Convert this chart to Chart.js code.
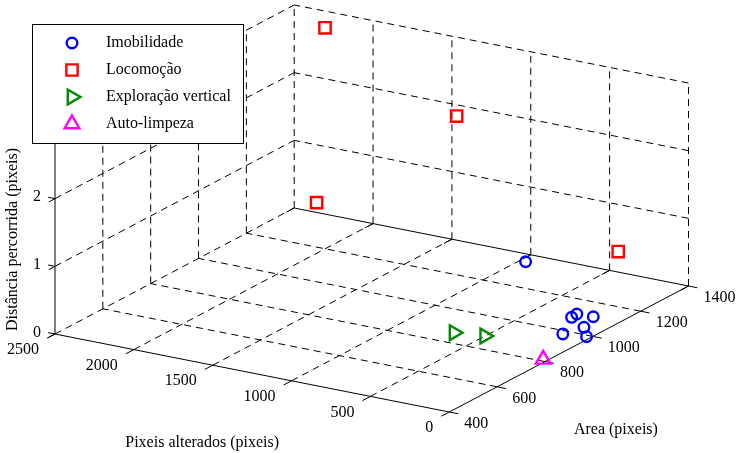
<!DOCTYPE html>
<html>
<head>
<meta charset="utf-8">
<script src="https://cdn.jsdelivr.net/npm/chart.js@4.4.0/dist/chart.umd.min.js"></script>
<style>
  html, body { margin: 0; padding: 0; background: #fff; }
  #wrap { width: 742px; height: 453px; }
</style>
</head>
<body>
<div id="wrap"><canvas id="chart" width="742" height="453"></canvas></div>
<script>
// axis limits and tick values
const xRange = [0, 2500];      // Pixeis alterados
const yRange = [400, 1400];    // Area
const zRange = [0, 3];         // Distância percorrida
const xTicks = [0, 500, 1000, 1500, 2000, 2500];
const yTicks = [400, 600, 800, 1000, 1200, 1400];
const zTicks = [0, 1, 2, 3];

const xTitle = "Pixeis alterados (pixeis)";
const yTitle = "Area (pixeis)";
const zTitle = "Distância percorrida (pixeis)";

// samples: [pixeis alterados, area, distancia]
const imobilidade = [[963, 1354, 0], [270, 1111, 0], [265, 1086, 0], [170, 1114, 0], [120, 1042, 0], [160, 980, 0], [26, 991, 0]];
const locomocao = [[2200, 1331, 2.93], [1200, 1222, 2.29], [2000, 1164, 0.75], [300, 1304, 0.55]];
const exploracao = [[672, 863, 0], [502, 879, 0]];
const autoLimpeza = [[28, 811, 0]];

const seriesNames = ["Imobilidade", "Locomoção", "Exploração vertical", "Auto-limpeza"];
const seriesData = [imobilidade, locomocao, exploracao, autoLimpeza];
const seriesStyle = [
  { color: "#0000ff", pointStyle: "circle", radius: 5.3, rotation: 0 },
  { color: "#ff0000", pointStyle: "rect", radius: 8, rotation: 0 },
  { color: "#008a00", pointStyle: "triangle", radius: 8.5, rotation: 90 },
  { color: "#ff00ff", pointStyle: "triangle", radius: 8.5, rotation: 0 }
];

// camera: screen offset of the (xmin, ymin, zmin) corner and the span of each axis
const view = { ox: 449.3, oy: 412, ex: [-394.3, -78], ey: [239.2, -126], ez: [0, -203] };

function project([X, Y, Z]) {
  const u = (X - xRange[0]) / (xRange[1] - xRange[0]);
  const v = (Y - yRange[0]) / (yRange[1] - yRange[0]);
  const w = (Z - zRange[0]) / (zRange[1] - zRange[0]);
  return {
    x: view.ox + u * view.ex[0] + v * view.ey[0] + w * view.ez[0],
    y: view.oy + u * view.ex[1] + v * view.ey[1] + w * view.ez[1]
  };
}

// short tick of len px leaving p along 3D direction d
function tick(p, d, len) {
  const a = project(p);
  const b = project([p[0] + d[0], p[1] + d[1], p[2] + d[2]]);
  const dx = b.x - a.x, dy = b.y - a.y, n = Math.hypot(dx, dy);
  return [a, { x: a.x + dx / n * len, y: a.y + dy / n * len }];
}

const [x0, x1] = xRange, [y0, y1] = yRange, [z0, z1] = zRange;

// dashed grid on the floor and the two back walls
const dashed = [];
xTicks.filter(X => X !== x0).forEach(X => dashed.push([[X, y0, z0], [X, y1, z0]]));
yTicks.filter(Y => Y !== y0 && Y !== y1).forEach(Y => dashed.push([[x0, Y, z0], [x1, Y, z0]]));
yTicks.filter(Y => Y !== y0).forEach(Y => dashed.push([[x1, Y, z0], [x1, Y, z1]]));
zTicks.filter(Z => Z !== z0).forEach(Z => dashed.push([[x1, y0, Z], [x1, y1, Z]]));
xTicks.filter(X => X !== x1).forEach(X => dashed.push([[X, y1, z0], [X, y1, z1]]));
zTicks.filter(Z => Z !== z0).forEach(Z => dashed.push([[x0, y1, Z], [x1, y1, Z]]));

// solid axis lines
const solid = [
  [[x0, y0, z0], [x1, y0, z0]],
  [[x0, y0, z0], [x0, y1, z0]],
  [[x1, y0, z0], [x1, y0, z1]],
  [[x0, y1, z0], [x1, y1, z0]]
];

const ticks = [];
xTicks.forEach(X => ticks.push(tick([X, y0, z0], [0, -1, 0], 9)));
xTicks.forEach(X => ticks.push(tick([X, y1, z0], [0, -1, 0], 9)));
yTicks.forEach(Y => ticks.push(tick([x0, Y, z0], [-1, 0, 0], 9)));
zTicks.forEach(Z => {
  ticks.push(tick([x1, y0, Z], [1, 0, 0], 7));
  ticks.push(tick([x1, y0, Z], [0, -1, 0], 7));
});

const lineSet = (pts, dash) => ({
  data: pts,
  showLine: true,
  borderColor: "#000",
  borderWidth: 1,
  borderDash: dash,
  pointRadius: 0,
  fill: false,
  order: 10
});

const datasets = [];
seriesData.forEach((pts, i) => {
  const s = seriesStyle[i];
  datasets.push({
    label: seriesNames[i],
    data: pts.map(project),
    pointStyle: s.pointStyle,
    rotation: s.rotation,
    pointRadius: s.radius,
    borderColor: s.color,
    backgroundColor: "rgba(0,0,0,0)",
    pointBorderWidth: 2.4,
    showLine: false,
    order: 0
  });
});
dashed.forEach(l => datasets.push(lineSet(l.map(project), [7, 5])));
solid.forEach(l => datasets.push(lineSet(l.map(project), [])));
ticks.forEach(t => datasets.push(lineSet(t, [])));

const FONT = '16px "Liberation Serif", "Times New Roman", serif';

const axisText = {
  id: "axisText",
  afterDatasetsDraw(chart) {
    const { ctx, scales: { x, y } } = chart;
    const px = p => ({ x: x.getPixelForValue(p.x), y: y.getPixelForValue(p.y) });
    ctx.save();
    ctx.font = FONT;
    ctx.fillStyle = "#000";
    ctx.textBaseline = "middle";

    ctx.textAlign = "right";
    xTicks.forEach(X => {
      const p = px(project([X, y0, z0]));
      ctx.fillText(String(X), p.x - 16, p.y + 16);
    });
    ctx.textAlign = "left";
    yTicks.forEach(Y => {
      const p = px(project([x0, Y, z0]));
      ctx.fillText(String(Y), p.x + 15, p.y + 11.5);
    });
    ctx.textAlign = "right";
    zTicks.forEach(Z => {
      const p = px(project([x1, y0, Z]));
      ctx.fillText(String(Z), p.x - 14, p.y - 1.5);
    });

    ctx.textAlign = "center";
    let p = px(project([(x0 + x1) / 2, y0, z0]));
    ctx.fillText(xTitle, p.x - 50, p.y + 70);
    p = px(project([x0, (y0 + y1) / 2, z0]));
    ctx.fillText(yTitle, p.x + 47, p.y + 81);
    p = px(project([x1, y0, (z0 + z1) / 2]));
    ctx.translate(p.x - 42, p.y + 7);
    ctx.rotate(-Math.PI / 2);
    ctx.fillText(zTitle, 0, 0);
    ctx.restore();
  }
};

const boxLegend = {
  id: "boxLegend",
  afterDraw(chart) {
    const ctx = chart.ctx;
    const left = 32, top = 24, w = 211, h = 119;
    ctx.save();
    ctx.fillStyle = "#fff";
    ctx.fillRect(left, top, w, h);
    ctx.strokeStyle = "#000";
    ctx.lineWidth = 1;
    ctx.strokeRect(left + 0.5, top + 0.5, w, h);
    ctx.font = FONT;
    ctx.textAlign = "left";
    ctx.textBaseline = "middle";
    seriesNames.forEach((name, i) => {
      const s = seriesStyle[i];
      const cy = top + 19 + i * 27;
      ctx.strokeStyle = s.color;
      ctx.fillStyle = "rgba(0,0,0,0)";
      ctx.lineWidth = 2.4;
      Chart.helpers.drawPoint(ctx, { pointStyle: s.pointStyle, rotation: s.rotation, radius: s.radius, borderWidth: 2.4 }, 72, cy);
      ctx.fillStyle = "#000";
      ctx.fillText(name, 106, cy);
    });
    ctx.restore();
  }
};

new Chart(document.getElementById("chart"), {
  type: "scatter",
  data: { datasets },
  options: {
    responsive: false,
    animation: false,
    events: [],
    layout: { padding: 0, autoPadding: false },
    plugins: { legend: { display: false }, tooltip: { enabled: false } },
    scales: {
      x: { type: "linear", min: 0, max: 742, display: false },
      y: { type: "linear", min: 0, max: 453, reverse: true, display: false }
    }
  },
  plugins: [axisText, boxLegend]
});
</script>
</body>
</html>
